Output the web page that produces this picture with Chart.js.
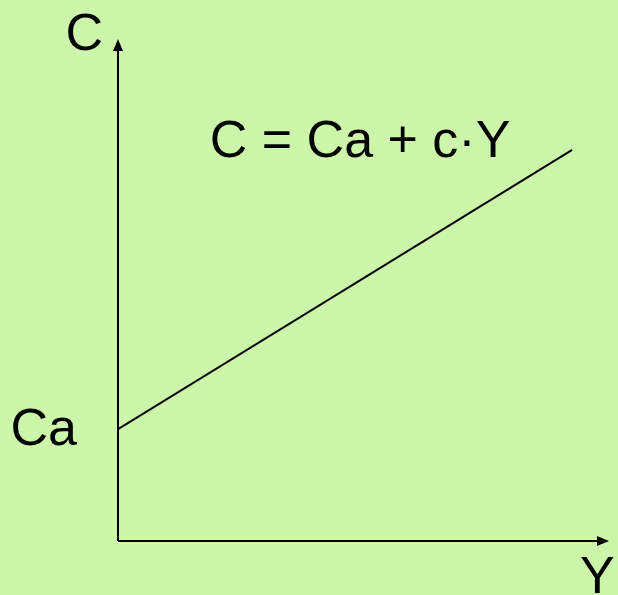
<!DOCTYPE html>
<html>
<head>
<meta charset="utf-8">
<script src="https://cdn.jsdelivr.net/npm/chart.js@4"></script>
<style>
  html, body { margin: 0; padding: 0; background: #ccf7ab; }
  #wrap { width: 618px; height: 595px; }
</style>
</head>
<body>
<div id="wrap"><canvas id="keynes"></canvas></div>
<script>
// consumption function C = Ca + c*Y
const incomeValues = [0, 9.25];
const consumptionValues = [2.23, 7.79];
const axisLabels = ['Y', 'C'];
const interceptLabel = 'Ca';
const equationLabel = 'C = Ca + c\u00b7Y';

const FONT = '52px "Liberation Sans", Arial, sans-serif';

// background + axes with arrowheads + labels
const diagramPlugin = {
    id: 'diagram',
    beforeDraw(chart) {
        const ctx = chart.ctx;
        ctx.save();
        ctx.fillStyle = '#ccf7ab';
        ctx.fillRect(0, 0, chart.width, chart.height);
        ctx.restore();
    },
    afterDraw(chart) {
        const ctx = chart.ctx;
        const xs = chart.scales.x;
        const ys = chart.scales.y;
        const x0 = xs.getPixelForValue(0);
        const y0 = ys.getPixelForValue(0);
        const xEnd = xs.getPixelForValue(xs.max);
        const yEnd = ys.getPixelForValue(ys.max);

        ctx.save();
        ctx.strokeStyle = '#000';
        ctx.fillStyle = '#000';
        ctx.lineWidth = 2;
        ctx.beginPath();
        ctx.moveTo(x0, y0);
        ctx.lineTo(x0, yEnd + 8);
        ctx.moveTo(x0, y0);
        ctx.lineTo(xEnd - 8, y0);
        ctx.stroke();

        // arrowheads
        ctx.beginPath();
        ctx.moveTo(x0, yEnd);
        ctx.lineTo(x0 - 5, yEnd + 12);
        ctx.lineTo(x0 + 5, yEnd + 12);
        ctx.closePath();
        ctx.fill();
        ctx.beginPath();
        ctx.moveTo(xEnd, y0);
        ctx.lineTo(xEnd - 12, y0 - 5);
        ctx.lineTo(xEnd - 12, y0 + 5);
        ctx.closePath();
        ctx.fill();

        // text
        ctx.font = FONT;
        ctx.textBaseline = 'alphabetic';
        ctx.textAlign = 'right';
        ctx.fillText(axisLabels[1], x0 - 15, yEnd + 11);
        ctx.textBaseline = 'middle';
        ctx.fillText(interceptLabel, x0 - 41, ys.getPixelForValue(consumptionValues[0]) + 2);
        ctx.textAlign = 'left';
        ctx.textBaseline = 'alphabetic';
        ctx.fillText(axisLabels[0], xEnd - 29, y0 + 52);
        ctx.textAlign = 'center';
        ctx.fillText(equationLabel, xs.getPixelForValue(4.93), ys.getPixelForValue(7.65));
        ctx.restore();
    }
};

new Chart(document.getElementById('keynes'), {
    type: 'line',
    data: {
        datasets: [{
            data: incomeValues.map((v, i) => ({ x: v, y: consumptionValues[i] })),
            borderColor: '#000',
            borderWidth: 2,
            pointRadius: 0,
            fill: false,
            tension: 0
        }]
    },
    options: {
        responsive: true,
        maintainAspectRatio: false,
        animation: false,
        layout: { padding: { left: 118, top: 39, right: 9, bottom: 54 } },
        scales: {
            x: { type: 'linear', min: 0, max: 10, display: false },
            y: { type: 'linear', min: 0, max: 10, display: false }
        },
        plugins: {
            legend: { display: false },
            tooltip: { enabled: false }
        }
    },
    plugins: [diagramPlugin]
});
</script>
</body>
</html>
